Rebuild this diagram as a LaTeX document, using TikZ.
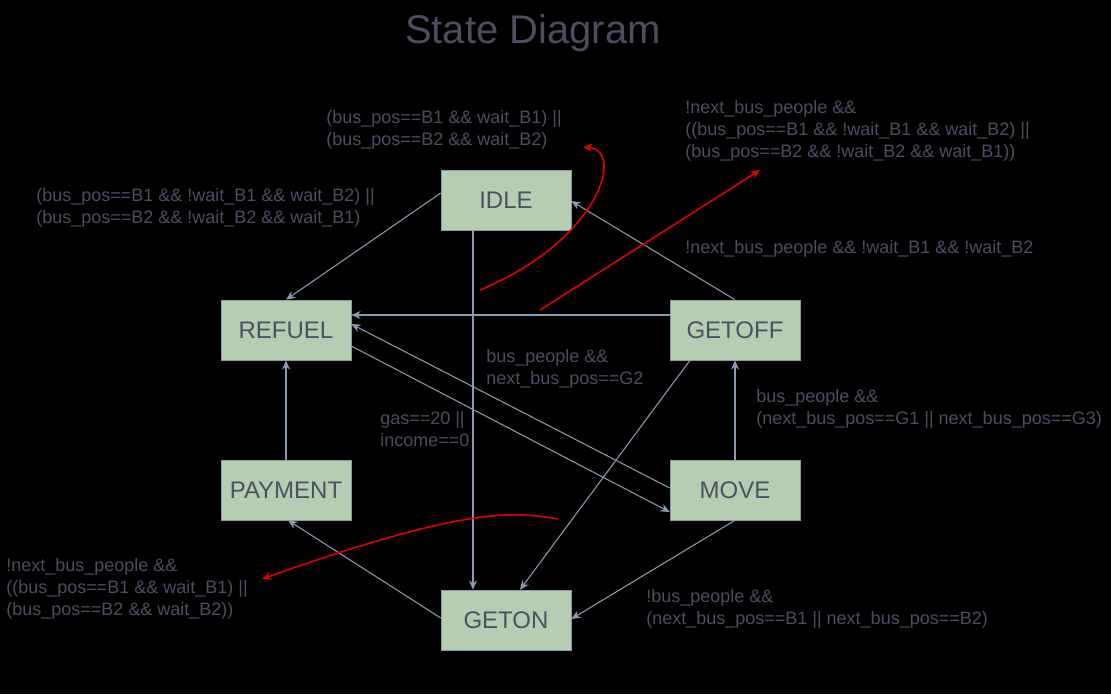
\documentclass[tikz,border=0pt]{standalone}
\usepackage{fontspec}
\setmainfont{Liberation Sans}
\usetikzlibrary{arrows.meta,calc}
\definecolor{boxfill}{HTML}{B5CDB0}
\definecolor{boxline}{HTML}{8C9AA8}
\definecolor{statetext}{HTML}{4A5461}
\definecolor{labeltext}{HTML}{4B4E60}
\definecolor{conn}{HTML}{8A9AB0}
\definecolor{redline}{HTML}{E00000}
\begin{document}
\begin{tikzpicture}[x=0.75pt,y=-0.75pt,
  state/.style={draw=boxline,fill=boxfill,minimum width=97.5pt,minimum height=45pt,inner sep=0pt,
    text=statetext,font=\fontsize{18}{20}\selectfont},
  cond/.style={anchor=west,align=left,inner sep=0pt,text=labeltext,
    font=\fontsize{13.5}{16.5}\selectfont},
  trans/.style={draw=conn,line width=0.8pt,-{Stealth[length=7pt,width=6pt]}},
  redarrow/.style={draw=redline,line width=1.2pt,-{Stealth[length=7pt,width=6pt]}}]
\fill[black] (0,0) rectangle (1111,694);
\useasboundingbox (0,0) rectangle (1111,694);

\node[text=labeltext,font=\fontsize{30}{34}\selectfont] (title) at (533,33) {State Diagram};

\node[state] (idle) at (506,200) {IDLE};
\node[state] (refuel) at (286,330) {REFUEL};
\node[state] (getoff) at (735,330) {GETOFF};
\node[state] (payment) at (286,490) {PAYMENT};
\node[state] (move) at (735,490) {MOVE};
\node[state] (geton) at (506,620) {GETON};

\draw[trans] ($(idle.west)+(0,-7)$) -- (refuel.north);
\draw[trans] ($(idle.south)+(-33,0)$) -- ($(geton.north)+(-33,0)$);
\draw[trans] (getoff.north) -- ($(idle.east)+(0,1)$);
\draw[trans] ($(getoff.west)+(0,-15)$) -- ($(refuel.east)+(0,-15)$);
\draw[trans] ($(move.west)+(0,-2)$) -- ($(refuel.east)+(0,-6)$);
\draw[trans] ($(refuel.east)+(0,16)$) -- ($(move.west)+(0,22)$);
\draw[trans] ($(getoff.south)+(-45,0)$) -- ($(geton.north)+(14,0)$);
\draw[trans] (move.north) -- (getoff.south);
\draw[trans] (move.south) -- ($(geton.east)+(0,-1)$);
\draw[trans] ($(geton.west)+(0,-2)$) -- ($(payment.south)+(2,0)$);
\draw[trans] (payment.north) -- (refuel.south);

\coordinate (ra1) at (480,290);
\coordinate (ra2) at (583,147);
\coordinate (rb1) at (540,310);
\coordinate (rb2) at (760,170);
\coordinate (rc1) at (558,519);
\coordinate (rc2) at (262,579);
\draw[redarrow] (ra1) .. controls (600,240) and (625,150) .. (ra2);
\draw[redarrow] (rb1) -- (rb2);
\draw[redarrow] (rc1) .. controls (515,512) and (470,505) .. (rc2);

\node[cond] (c1) at (326,129.5) {(bus\_pos==B1 \&\& wait\_B1) ||\\(bus\_pos==B2 \&\& wait\_B2)};
\node[cond] (c2) at (36,208) {(bus\_pos==B1 \&\& !wait\_B1 \&\& wait\_B2) ||\\(bus\_pos==B2 \&\& !wait\_B2 \&\& wait\_B1)};
\node[cond] (c3) at (685,130.5) {!next\_bus\_people \&\&\\((bus\_pos==B1 \&\& !wait\_B1 \&\& wait\_B2) ||\\(bus\_pos==B2 \&\& !wait\_B2 \&\& wait\_B1))};
\node[cond] (c4) at (685,249) {!next\_bus\_people \&\& !wait\_B1 \&\& !wait\_B2};
\node[cond] (c5) at (486,369) {bus\_people \&\&\\next\_bus\_pos==G2};
\node[cond] (c6) at (380,429.5) {gas==20 ||\\income==0};
\node[cond] (c7) at (756,409) {bus\_people \&\&\\(next\_bus\_pos==G1 || next\_bus\_pos==G3)};
\node[cond] (c8) at (6,589) {!next\_bus\_people \&\&\\((bus\_pos==B1 \&\& wait\_B1) ||\\(bus\_pos==B2 \&\& wait\_B2))};
\node[cond] (c9) at (646,609) {!bus\_people \&\&\\(next\_bus\_pos==B1 || next\_bus\_pos==B2)};
\end{tikzpicture}
\end{document}
